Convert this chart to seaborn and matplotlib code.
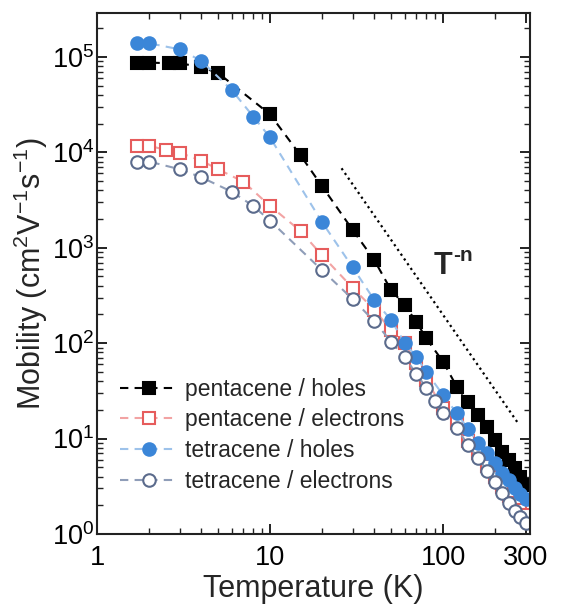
import matplotlib
matplotlib.use("Agg")
import matplotlib.pyplot as plt
import matplotlib.ticker as mticker
import seaborn as sns

# Mobility vs temperature
penta_h_T = [1.7, 2, 2.6, 3, 4, 5, 10, 15, 20, 30, 40, 50, 60, 70, 80, 100,
             120, 140, 160, 180, 200, 220, 240, 260, 280, 300]
penta_h_mu = [8.7e4, 8.7e4, 8.6e4, 8.6e4, 7.8e4, 6.8e4, 2.5e4, 9.3e3, 4.4e3,
              1.54e3, 745, 361, 251, 168, 112, 64, 35, 24, 17.7, 13.3, 9.7,
              7.3, 6.0, 4.9, 4.0, 3.3]

penta_e_T = [1.7, 2, 2.5, 3, 4, 5, 7, 10, 15, 20, 30, 40, 50, 60, 70, 80, 100,
             120, 140, 160, 180, 200, 220, 240, 260, 280, 300]
penta_e_mu = [1.17e4, 1.17e4, 1.06e4, 9.9e3, 8.2e3, 6.65e3, 4.93e3, 2.74e3,
              1.5e3, 830, 380, 225, 137, 100, 62, 41, 21, 14.5, 9.5, 7.0, 5.2,
              4.0, 3.1, 2.5, 2.1, 1.8, 1.6]

tetra_h_T = [1.7, 2, 3, 4, 6, 8, 10, 20, 30, 40, 50, 60, 70, 80, 100, 120, 140,
             160, 180, 200, 220, 240, 260, 280, 300]
tetra_h_mu = [1.39e5, 1.39e5, 1.2e5, 9.1e4, 4.5e4, 2.37e4, 1.43e4, 1.85e3, 625,
              284, 175, 101, 72, 50, 28.6, 18.4, 12.5, 8.9, 7.0, 5.5, 4.4, 3.7,
              3.0, 2.6, 2.3]

tetra_e_T = [1.7, 2, 3, 4, 6, 8, 10, 20, 30, 40, 50, 60, 70, 80, 90, 100, 120,
             140, 160, 180, 200, 220, 240, 260, 280, 300]
tetra_e_mu = [8.0e3, 8.0e3, 6.65e3, 5.48e3, 3.87e3, 2.74e3, 1.92e3, 580, 290,
              170, 104, 71, 48, 34, 25, 18.4, 12.8, 8.5, 6.2, 4.6, 3.5, 2.7, 2.1,
              1.75, 1.5, 1.3]

# T^-n guide line end points
guide_T = [25.9, 272]
guide_mu = [6.8e3, 14.4]

sns.set_style("ticks")
plt.rcParams["font.family"] = ["Liberation Sans", "DejaVu Sans"]
plt.rcParams["mathtext.fontset"] = "custom"
plt.rcParams["mathtext.rm"] = "Liberation Sans"
plt.rcParams["mathtext.it"] = "Liberation Sans:italic"
plt.rcParams["mathtext.bf"] = "Liberation Sans:bold"
plt.rcParams["mathtext.default"] = "regular"

fig = plt.figure(figsize=(5.63, 6.10), dpi=100)
ax = fig.add_axes([97 / 563, 1 - 534 / 610, (530 - 97) / 563, (534 - 13) / 610])
ax.set_xscale("log")
ax.set_yscale("log")

series = [
    (penta_h_T, penta_h_mu, "pentacene / holes", "s", "black", "black", "black"),
    (penta_e_T, penta_e_mu, "pentacene / electrons", "s", "#f2a3a3", "#e65c5c", "white"),
    (tetra_h_T, tetra_h_mu, "tetracene / holes", "o", "#9dc2ea", "#3b86d8", "#3b86d8"),
    (tetra_e_T, tetra_e_mu, "tetracene / electrons", "o", "#8f9db8", "#5b6b8c", "white"),
]
for T, mu, name, mk, lc, ec, fc in series:
    sns.lineplot(x=T, y=mu, ax=ax, color=lc, marker=mk, markersize=9,
                 markeredgecolor=ec, markerfacecolor=fc, markeredgewidth=1.5,
                 linewidth=1.5, dashes=False, linestyle=(0, (4, 3)),
                 errorbar=None, label=name)

ax.plot(guide_T, guide_mu, color="black", linestyle=(0, (1, 1.6)), linewidth=1.6)
ax.text(0.80, 0.515, "T", transform=ax.transAxes, fontsize=22,
        fontweight="bold", ha="center", va="center")
ax.annotate("-n", xy=(0.80, 0.515), xycoords="axes fraction",
            xytext=(7, 7), textcoords="offset points", fontsize=15,
            fontweight="bold", ha="left", va="center")

ax.set_xlim(1, 318)
ax.set_ylim(1, 10 ** 5.46)
ax.set_xticks([1, 10, 100, 300])
ax.set_xticklabels(["1", "10", "100", "300"])
ax.xaxis.set_minor_locator(mticker.LogLocator(base=10, subs=range(2, 10)))
ax.xaxis.set_minor_formatter(mticker.NullFormatter())
ax.yaxis.set_major_locator(mticker.LogLocator(base=10, numticks=10))
ax.yaxis.set_minor_locator(mticker.LogLocator(base=10, subs=range(2, 10), numticks=10))
ax.yaxis.set_minor_formatter(mticker.NullFormatter())

ax.tick_params(which="both", direction="in", top=True, right=True, colors="#222222",
               labelcolor="black")
ax.tick_params(which="major", length=7, width=1.4, labelsize=19.5)
ax.tick_params(which="minor", length=4, width=1.0)
ax.tick_params(axis="x", which="major", pad=8)
ax.tick_params(axis="y", which="major", pad=2)
for s in ax.spines.values():
    s.set_linewidth(1.5)
    s.set_color("#222222")

ax.set_xlabel("Temperature (K)", fontsize=22, labelpad=2)
ax.set_ylabel(r"Mobility (cm$^{2}$V$^{-1}$s$^{-1}$)", fontsize=22, labelpad=1)

ax.legend(loc="upper left", bbox_to_anchor=(0.053, 0.30), frameon=False,
          fontsize=16.5, handlelength=2.5, handletextpad=0.35, labelspacing=0.34,
          borderpad=0, borderaxespad=0)

fig.savefig("out.png", dpi=100)
